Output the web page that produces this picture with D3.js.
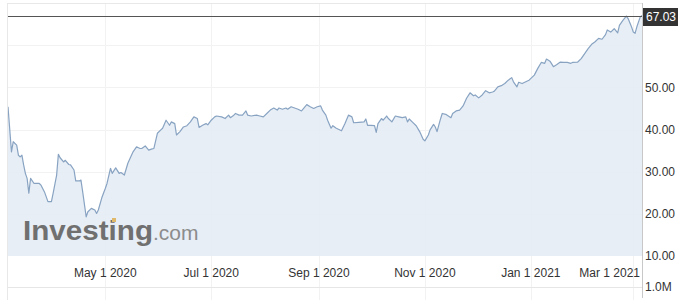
<!DOCTYPE html>
<html>
<head>
<meta charset="utf-8">
<script src="https://cdn.jsdelivr.net/npm/d3@7"></script>
<style>
  body { margin: 0; background: #fff; }
  svg { display: block; font-family: Arial, "Liberation Sans", sans-serif; }
</style>
</head>
<body>
<svg id="chart" width="692" height="300"></svg>
<script>
// daily closes (Mar 2020 - Mar 2021)
var dates = [
  "2020-03-06","2020-03-08","2020-03-09","2020-03-11","2020-03-12","2020-03-13","2020-03-14","2020-03-15",
  "2020-03-16","2020-03-17","2020-03-18","2020-03-19","2020-03-21","2020-03-22","2020-03-24","2020-03-25",
  "2020-03-27","2020-03-29","2020-03-31","2020-04-01","2020-04-03","2020-04-04","2020-04-05","2020-04-07",
  "2020-04-08","2020-04-10","2020-04-11","2020-04-13","2020-04-14","2020-04-16","2020-04-17","2020-04-18",
  "2020-04-20","2020-04-21","2020-04-23","2020-04-25","2020-04-26","2020-04-27","2020-04-29",
  "2020-05-01","2020-05-02","2020-05-04","2020-05-05","2020-05-07","2020-05-09","2020-05-10","2020-05-12",
  "2020-05-14","2020-05-17","2020-05-19","2020-05-21","2020-05-22","2020-05-24","2020-05-26","2020-05-28",
  "2020-05-29","2020-05-31","2020-06-02","2020-06-03","2020-06-05","2020-06-07","2020-06-08","2020-06-10",
  "2020-06-11","2020-06-13","2020-06-15","2020-06-17","2020-06-19","2020-06-21","2020-06-23","2020-06-24",
  "2020-06-26","2020-06-28","2020-06-29","2020-07-01","2020-07-03","2020-07-04","2020-07-07","2020-07-09",
  "2020-07-11","2020-07-12","2020-07-14","2020-07-15","2020-07-17","2020-07-19","2020-07-21","2020-07-22",
  "2020-07-24","2020-07-27","2020-07-29","2020-07-31","2020-08-02","2020-08-04","2020-08-06","2020-08-08",
  "2020-08-09","2020-08-11","2020-08-13","2020-08-14","2020-08-16","2020-08-18","2020-08-20","2020-08-22",
  "2020-08-25","2020-08-27","2020-08-29","2020-08-31","2020-09-02","2020-09-03","2020-09-05","2020-09-06",
  "2020-09-08","2020-09-09","2020-09-11","2020-09-14","2020-09-16","2020-09-18","2020-09-20","2020-09-21",
  "2020-09-24","2020-09-27","2020-09-28","2020-09-29","2020-10-01","2020-10-03","2020-10-04","2020-10-05",
  "2020-10-07","2020-10-08","2020-10-10","2020-10-11","2020-10-13","2020-10-15","2020-10-17","2020-10-19",
  "2020-10-21","2020-10-22","2020-10-23","2020-10-25","2020-10-27","2020-10-29","2020-10-31","2020-11-01",
  "2020-11-03","2020-11-04","2020-11-06","2020-11-07","2020-11-08","2020-11-10","2020-11-11","2020-11-13",
  "2020-11-16","2020-11-17","2020-11-19","2020-11-21","2020-11-23","2020-11-25","2020-11-27","2020-11-29",
  "2020-11-30","2020-12-02","2020-12-04","2020-12-06","2020-12-08","2020-12-10","2020-12-11","2020-12-13",
  "2020-12-15","2020-12-17","2020-12-19","2020-12-21","2020-12-22","2020-12-24","2020-12-25","2020-12-27",
  "2020-12-30","2020-12-31","2021-01-03","2021-01-05","2021-01-07","2021-01-09","2021-01-10","2021-01-12",
  "2021-01-14","2021-01-16","2021-01-18","2021-01-20","2021-01-22","2021-01-24","2021-01-25","2021-01-28",
  "2021-01-30","2021-02-01","2021-02-03","2021-02-05","2021-02-07","2021-02-09","2021-02-11","2021-02-13",
  "2021-02-14","2021-02-16","2021-02-18","2021-02-20","2021-02-21","2021-02-23","2021-02-25","2021-02-26",
  "2021-02-28","2021-03-01","2021-03-02","2021-03-03","2021-03-05","2021-03-06"
];
var prices = [
  45.4, 34.7, 37.1, 36.3, 33.9, 33.5, 33.9, 31.6,
  29.6, 28.4, 24.9, 28.4, 27.2, 27.2, 27.2, 26.8,
  25.2, 22.9, 22.9, 24.9, 29.2, 34.1, 33.3, 32.3,
  32.7, 31.7, 31.6, 30.4, 27.8, 27.8, 28.0, 25.2,
  19.3, 20.5, 21.3, 20.9, 20.1, 20.9, 23.8,
  26.0, 27.2, 30.8, 29.6, 30.9, 29.6, 29.8, 29.2,
  32.0, 34.7, 35.9, 35.5, 35.5, 36.1, 35.1, 35.4,
  35.5, 39.1, 39.9, 40.3, 42.2, 41.0, 41.8, 41.4,
  38.7, 39.5, 40.6, 40.9, 41.8, 43.0, 42.6, 40.5,
  41.0, 41.4, 41.1, 42.2, 43.0, 43.2, 43.0, 42.6,
  43.4, 42.8, 43.4, 43.8, 43.4, 43.4, 44.4, 43.4,
  43.2, 43.4, 43.2, 43.0, 43.8, 44.6, 45.1, 44.6,
  45.1, 44.8, 45.1, 44.8, 45.4, 45.1, 44.8, 44.4,
  45.9, 45.4, 45.0, 45.4, 45.6, 44.6, 43.4, 42.2,
  40.3, 40.9, 40.3, 39.7, 41.4, 43.4, 43.0, 41.6,
  41.7, 41.8, 42.5, 41.0, 41.0, 40.9, 39.3, 41.4,
  42.6, 42.2, 43.2, 42.6, 41.8, 43.2, 43.0, 42.8,
  43.0, 41.8, 42.5, 41.7, 40.9, 39.5, 37.7, 37.3,
  38.7, 39.9, 41.2, 40.6, 39.5, 42.5, 43.8, 43.6,
  42.8, 43.8, 44.4, 44.6, 45.6, 47.4, 48.7, 48.0,
  48.2, 47.5, 48.2, 49.2, 48.7, 48.9, 49.1, 50.1,
  50.4, 50.9, 51.7, 52.3, 51.3, 50.1, 51.2, 50.9,
  51.5, 51.7, 52.9, 54.5, 55.9, 55.7, 56.7, 56.2,
  54.9, 55.4, 56.0, 55.9, 55.9, 55.7, 55.9, 56.0,
  56.8, 58.0, 59.2, 60.2, 60.8, 61.6, 61.4, 62.5,
  63.6, 63.1, 63.9, 62.9, 64.7, 65.9, 66.9, 66.3,
  64.3, 63.1, 62.8, 64.3, 66.7, 67.03
];
var lastPrice = 67.03;
var priceTicks = [10, 20, 30, 40, 50];
var priceGrid = [20, 30, 40, 50, 60];
var monthTicks = ["2020-05-01", "2020-07-01", "2020-09-01", "2020-11-01", "2021-01-01", "2021-03-01"];
var volumeTicks = [1000000];

var W = 692, H = 300;
var plotLeft = 8, plotRight = 642, plotTop = 3, priceBottom = 256, volTop = 287;

var parse = d3.utcParse("%Y-%m-%d");
var data = dates.map(function(d, i) { return { date: parse(d), value: prices[i] }; });

var x = d3.scaleUtc()
    .domain([parse("2020-03-06"), parse("2021-03-06")])
    .range([plotLeft, plotRight]);
var y = d3.scaleLinear().domain([10, 70]).range([priceBottom, plotTop]);
var yVol = d3.scaleLinear().domain([0, 1000000]).range([H + 40, volTop]);

var svg = d3.select("#chart");
svg.append("rect").attr("width", W).attr("height", H).attr("fill", "#fff");

// grid
svg.append("g").selectAll("line")
    .data(priceGrid)
    .enter().append("line")
      .attr("x1", plotLeft).attr("x2", plotRight)
      .attr("y1", function(d) { return Math.round(y(d)) + 0.5; })
      .attr("y2", function(d) { return Math.round(y(d)) + 0.5; })
      .attr("stroke", "#f2f2f2");

svg.append("g").selectAll("line")
    .data(monthTicks)
    .enter().append("line")
      .attr("x1", function(d) { return Math.round(x(parse(d))) + 0.5; })
      .attr("x2", function(d) { return Math.round(x(parse(d))) + 0.5; })
      .attr("y1", plotTop).attr("y2", H)
      .attr("stroke", "#f2f2f2");

// area + line
var area = d3.area()
    .x(function(d) { return x(d.date); })
    .y0(y(10))
    .y1(function(d) { return y(d.value); });
var line = d3.line()
    .x(function(d) { return x(d.date); })
    .y(function(d) { return y(d.value); });

svg.append("path").datum(data)
    .attr("d", area)
    .attr("fill", "#e4ecf5")
    .attr("fill-opacity", 0.9);

// watermark
var wm = svg.append("g").attr("class", "watermark");
wm.append("text")
    .attr("x", 23).attr("y", 240)
    .attr("font-size", 28).attr("font-weight", "bold")
    .attr("textLength", 130).attr("lengthAdjust", "spacingAndGlyphs")
    .attr("fill", "#707070")
    .text("Investing");
wm.append("text")
    .attr("x", 153).attr("y", 240)
    .attr("font-size", 21)
    .attr("fill", "#8c8c8c")
    .text(".com");
wm.append("rect")
    .attr("x", 112).attr("y", 218).attr("width", 4).attr("height", 4)
    .attr("fill", "#e0b86a");

svg.append("path").datum(data)
    .attr("d", line)
    .attr("fill", "none")
    .attr("stroke", "#88a3c2")
    .attr("stroke-width", 1.2)
    .attr("stroke-linejoin", "round");

// frame
svg.append("line")
    .attr("x1", plotLeft - 0.5).attr("x2", plotRight).attr("y1", plotTop + 0.5).attr("y2", plotTop + 0.5)
    .attr("stroke", "#e8e8e8");
svg.append("line")
    .attr("x1", plotLeft - 0.5).attr("x2", plotLeft - 0.5).attr("y1", plotTop).attr("y2", H)
    .attr("stroke", "#e8e8e8");
svg.append("line")
    .attr("x1", plotLeft).attr("x2", plotRight).attr("y1", volTop + 0.5).attr("y2", volTop + 0.5)
    .attr("stroke", "#e6e6e6");
svg.append("line")
    .attr("x1", plotRight + 0.5).attr("x2", plotRight + 0.5).attr("y1", plotTop).attr("y2", H - 2)
    .attr("stroke", "#c8c8c8");

// last price line
var yLast = Math.round(y(lastPrice)) + 0.5;
svg.append("line")
    .attr("x1", plotLeft).attr("x2", plotRight).attr("y1", yLast).attr("y2", yLast)
    .attr("stroke", "#555");

// x axis labels
var fmt = d3.utcFormat("%b %-d %Y");
svg.append("g").selectAll("text")
    .data(monthTicks)
    .enter().append("text")
      .attr("x", function(d, i) { return i === monthTicks.length - 1 ? plotRight - 2 : x(parse(d)); })
      .attr("y", 277)
      .attr("text-anchor", function(d, i) { return i === monthTicks.length - 1 ? "end" : "middle"; })
      .attr("font-size", 12)
      .attr("fill", "#333")
      .text(function(d) { return fmt(parse(d)); });

// y axis labels
svg.append("g").selectAll("text")
    .data(priceTicks)
    .enter().append("text")
      .attr("x", plotRight + 3)
      .attr("y", function(d) { return y(d); })
      .attr("dy", "0.35em")
      .attr("font-size", 12)
      .attr("fill", "#333")
      .text(function(d) { return d3.format(".2f")(d); });

svg.append("g").selectAll("text")
    .data(volumeTicks)
    .enter().append("text")
      .attr("x", plotRight + 3)
      .attr("y", function(d) { return yVol(d); })
      .attr("dy", "0.35em")
      .attr("font-size", 12)
      .attr("fill", "#333")
      .text(function(d) { return d3.format(".1f")(d / 1e6) + "M"; });

// last price tag
var tag = svg.append("g");
tag.append("rect")
    .attr("x", plotRight + 1).attr("y", yLast - 8.5)
    .attr("width", 35).attr("height", 18)
    .attr("fill", "#333");
tag.append("text")
    .attr("x", plotRight + 4).attr("y", yLast)
    .attr("dy", "0.35em")
    .attr("font-size", 12)
    .attr("fill", "#fff")
    .text(d3.format(".2f")(lastPrice));
</script>
</body>
</html>
